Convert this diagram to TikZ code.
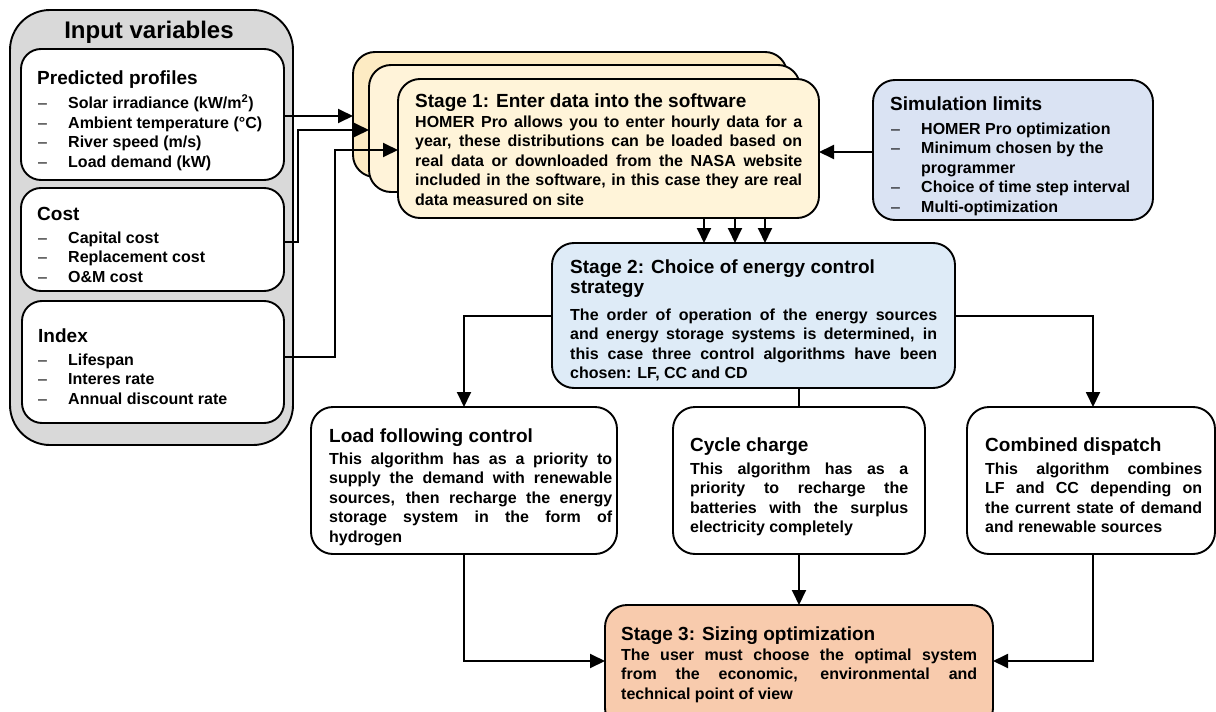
\documentclass[tikz,border=0pt]{standalone}
\usepackage{fontspec}
\setmainfont{Liberation Sans}
\usetikzlibrary{arrows.meta}
\definecolor{graybg}{HTML}{D9D9D9}
\definecolor{yelA}{HTML}{FDEBC3}
\definecolor{yelB}{HTML}{FFF3D9}
\definecolor{yelC}{HTML}{FFF4D9}
\definecolor{simblue}{HTML}{DAE3F3}
\definecolor{stwoblue}{HTML}{DEEBF7}
\definecolor{sthreeorg}{HTML}{F8CBAD}
\newcommand\J[2]{\makebox[#1pt][s]{#2}}
\newcommand\li[1]{\makebox[30pt][l]{\mdseries\textendash}#1}
\begin{document}
\begin{tikzpicture}[x=1pt,y=-1pt,
  box/.style={draw=black, line width=1.9pt, rounded corners=22pt, anchor=north west, inner sep=0pt, outer sep=0pt},
  sz/.style 2 args={minimum width=#1pt, minimum height=#2pt},
  head/.style={anchor=base west, inner sep=0pt, font=\fontsize{19}{20}\selectfont\bfseries},
  body/.style={anchor=north west, inner sep=0pt, align=left, font=\fontsize{16}{19.5}\selectfont\bfseries},
  conn/.style={line width=1.9pt},
  arr/.style={conn, -{Triangle[length=15pt,width=14pt]}}]
\useasboundingbox (0,0) rectangle (1216,712);

% Input variables group
\node[box, rounded corners=40pt, fill=graybg, sz={283}{435}] (outer) at (10,10) {};
\node[anchor=base, inner sep=0pt, font=\fontsize{24}{28}\selectfont\bfseries] (title) at (149,38) {Input variables};
\node[box, rounded corners=20pt, fill=white, sz={263}{131}] (pp) at (21,49) {};
\node[box, rounded corners=20pt, fill=white, sz={263}{103}] (cost) at (21,188) {};
\node[box, rounded corners=20pt, fill=white, sz={262}{122}] (index) at (22,301) {};
\node[head] (pph) at (37,84) {Predicted profiles};
\node[body] (ppb) at (38,94.35) {\strut\li{Solar irradiance (kW/m\textsuperscript{2})}\\ \li{Ambient temperature (°C)}\\ \li{River speed (m/s)}\\ \li{Load demand (kW)}};
\node[head] (costh) at (37,220) {Cost};
\node[body] (costb) at (38,229.35) {\strut\li{Capital cost}\\ \li{Replacement cost}\\ \li{O\&M cost}};
\node[head] (indexh) at (38,342) {Index};
\node[body] (indexb) at (38,351.35) {\strut\li{Lifespan}\\ \li{Interes rate}\\ \li{Annual discount rate}};

% Stage 1 stack
\node[box, fill=yelA, sz={434}{125}] (s1a) at (353,52) {};
\node[box, fill=yelB, sz={431}{127}] (s1b) at (369,65) {};
\node[box, fill=yelC, sz={421}{139}] (s1c) at (398,79) {};
\node[head] (s1h) at (415,107) {Stage 1: Enter data into the software};
\node[body] (s1t) at (415,113.35) {\strut\J{387}{HOMER Pro allows you to enter hourly data for a}\\
\J{387}{year, these distributions can be loaded based on}\\
\J{387}{real data or downloaded from the NASA website}\\
\J{387}{included in the software, in this case they are real}\\
data measured on site};

% Simulation limits
\node[box, fill=simblue, sz={280}{140}] (sim) at (873,80) {};
\node[head] (simh) at (890,110) {Simulation limits};
\node[body] (simb) at (891,120.35) {\strut\li{HOMER Pro optimization}\\ \li{Minimum chosen by the}\\ \hspace*{30pt}programmer\\ \li{Choice of time step interval}\\ \li{Multi-optimization}};

% Stage 2
\node[box, fill=stwoblue, sz={403}{145}] (s2) at (552,243) {};
\node[anchor=north west, inner sep=0pt, align=left, font=\fontsize{19}{20}\selectfont\bfseries] (s2h) at (570,259) {\rule{0pt}{14pt}Stage 2: Choice of energy control\\ strategy};
\node[body] (s2t) at (570,306.35) {\strut\J{367}{The order of operation of the energy sources}\\
\J{367}{and energy storage systems is determined, in}\\
\J{367}{this case three control algorithms have been}\\
chosen: LF, CC and CD};

% Algorithms
\node[box, fill=white, sz={306}{147}] (lf) at (311,407) {};
\node[head] (lfh) at (329,442) {Load following control};
\node[body] (lft) at (329,450.35) {\strut\J{283}{This algorithm has as a priority to}\\
\J{283}{supply the demand with renewable}\\
\J{283}{sources, then recharge the energy}\\
\J{283}{storage system in the form of}\\
hydrogen};

\node[box, fill=white, sz={252}{147}] (cc) at (673,407) {};
\node[head] (cch) at (690,451) {Cycle charge};
\node[body] (cct) at (690,460.35) {\strut\J{218}{This algorithm has as a}\\
\J{218}{priority to recharge the}\\
\J{218}{batteries with the surplus}\\
electricity completely};

\node[box, fill=white, sz={248}{147}] (cd) at (967,407) {};
\node[head] (cdh) at (985,451) {Combined dispatch};
\node[body] (cdt) at (985,460.35) {\strut\J{217}{This algorithm combines}\\
\J{217}{LF and CC depending on}\\
\J{217}{the current state of demand}\\
and renewable sources};

% Stage 3
\node[box, fill=sthreeorg, sz={388}{125}] (s3) at (605,605) {};
\node[head] (s3h) at (621,640) {Stage 3: Sizing optimization};
\node[body] (s3t) at (621,646.35) {\strut\J{356}{The user must choose the optimal system}\\
\J{356}{from the economic, environmental and}\\
technical point of view};

% Connectors
\draw[arr] (pp.east |- 0,116) -- (s1a.west |- 0,116);
\draw[arr] (cost.east |- 0,242) -| (298,130) -- (s1b.west |- 0,130);
\draw[arr] (index.east |- 0,357) -| (335,150) -- (s1c.west |- 0,150);
\draw[arr] (sim.west |- 0,152) -- (s1c.east |- 0,152);
\foreach \xx in {704,735,765}
  \draw[arr] (s1c.south -| \xx,0) -- (s2.north -| \xx,0);
\draw[arr] (s2.west |- 0,316) -| (lf.north);
\draw[arr] (s2.east |- 0,316) -| (cd.north -| 1093,0);
\draw[conn] (s2.south -| cc.north) -- (cc.north);
\draw[arr] (lf.south) |- (s3.west |- 0,661);
\draw[arr] (cc.south) -- (s3.north -| cc.south);
\draw[arr] (cd.south -| 1093,0) |- (s3.east |- 0,661);
\end{tikzpicture}
\end{document}
